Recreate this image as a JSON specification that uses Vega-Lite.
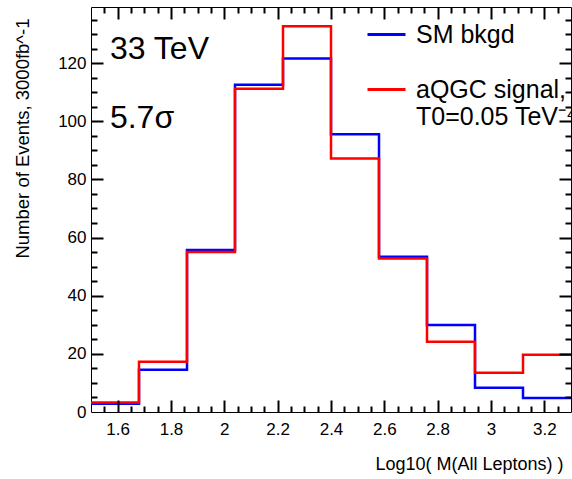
{
  "$schema": "https://vega.github.io/schema/vega-lite/v6.json",
  "width": 480,
  "height": 405,
  "autosize": {"type": "none"},
  "padding": {"left": 91, "top": 7, "right": 1, "bottom": 67},
  "background": "white",
  "config": {
    "view": {"stroke": "#000", "strokeWidth": 1},
    "font": "Liberation Sans",
    "axis": {
      "grid": false, "domain": false, "tickColor": "#000", "tickWidth": 2,
      "labelColor": "#000", "titleColor": "#000",
      "labelFont": "Liberation Sans", "titleFont": "Liberation Sans",
      "labelFontSize": 17, "titleFontSize": 18, "titleFontWeight": "normal"
    }
  },
  "data": {
    "values": [
      {"s": "SM", "i": 0, "lo": 1.5, "hi": 1.68, "n": 2.8},
      {"s": "SM", "i": 1, "lo": 1.68, "hi": 1.86, "n": 14.5},
      {"s": "SM", "i": 2, "lo": 1.86, "hi": 2.04, "n": 55.7},
      {"s": "SM", "i": 3, "lo": 2.04, "hi": 2.22, "n": 112.6},
      {"s": "SM", "i": 4, "lo": 2.22, "hi": 2.4, "n": 121.6},
      {"s": "SM", "i": 5, "lo": 2.4, "hi": 2.58, "n": 95.5},
      {"s": "SM", "i": 6, "lo": 2.58, "hi": 2.76, "n": 53.4},
      {"s": "SM", "i": 7, "lo": 2.76, "hi": 2.94, "n": 29.9},
      {"s": "SM", "i": 8, "lo": 2.94, "hi": 3.12, "n": 8.3},
      {"s": "SM", "i": 9, "lo": 3.12, "hi": 3.3, "n": 4.8},
      {"s": "aQGC", "i": 0, "lo": 1.5, "hi": 1.68, "n": 3.3},
      {"s": "aQGC", "i": 1, "lo": 1.68, "hi": 1.86, "n": 17.3},
      {"s": "aQGC", "i": 2, "lo": 1.86, "hi": 2.04, "n": 55.0},
      {"s": "aQGC", "i": 3, "lo": 2.04, "hi": 2.22, "n": 111.2},
      {"s": "aQGC", "i": 4, "lo": 2.22, "hi": 2.4, "n": 132.7},
      {"s": "aQGC", "i": 5, "lo": 2.4, "hi": 2.58, "n": 87.2},
      {"s": "aQGC", "i": 6, "lo": 2.58, "hi": 2.76, "n": 52.8},
      {"s": "aQGC", "i": 7, "lo": 2.76, "hi": 2.94, "n": 24.2},
      {"s": "aQGC", "i": 8, "lo": 2.94, "hi": 3.12, "n": 13.5},
      {"s": "aQGC", "i": 9, "lo": 3.12, "hi": 3.3, "n": 19.7}
    ]
  },
  "transform": [{"fold": ["lo", "hi"], "as": ["edge", "x"]}],
  "layer": [
    {
      "transform": [{"filter": "datum.s == 'SM'"}],
      "mark": {"type": "line", "strokeWidth": 2.5, "strokeJoin": "miter", "strokeCap": "butt", "clip": true},
      "encoding": {
        "x": {"field": "x", "type": "quantitative",
          "scale": {"domain": [1.5, 3.3], "nice": false, "zero": false},
          "axis": {"orient": "bottom", "values": [1.6, 1.8, 2, 2.2, 2.4, 2.6, 2.8, 3, 3.2], "format": "~g",
            "ticks": false, "labelPadding": 9, "labelFlush": false, "labelOverlap": false,
            "title": "Log10( M(All Leptons) )", "titleAnchor": "end", "titleAlign": "right",
            "titleX": 472, "titleY": 57, "titleBaseline": "alphabetic"}},
        "y": {"field": "n", "type": "quantitative",
          "scale": {"domain": [0, 139.3], "nice": false},
          "axis": {"orient": "left", "values": [0, 20, 40, 60, 80, 100, 120],
            "ticks": false, "labelPadding": 5, "labelFlush": false, "labelOverlap": false,
            "title": "Number of Events, 3000fb^-1", "titleFontSize": 18.5, "titleAngle": 270, "titleAnchor": "end", "titleAlign": "right",
            "titleX": -63, "titleY": 11, "titleBaseline": "alphabetic"}},
        "color": {"field": "s", "type": "nominal",
          "scale": {"domain": ["SM", "aQGC"], "range": ["#0000ff", "#ff0000"]},
          "legend": {"orient": "none", "legendX": 275, "legendY": 7, "title": null,
            "symbolType": "stroke", "symbolSize": 1444, "symbolStrokeWidth": 3,
            "labelFontSize": 25, "labelFont": "Liberation Sans", "labelColor": "#000",
            "labelOffset": 9, "rowPadding": 21, "labelLimit": 0,
            "labelExpr": "datum.label == 'SM' ? 'SM bkgd' : ['aQGC signal,', 'T0=0.05 TeV⁻⁴']"}},
        "order": [{"field": "i", "type": "quantitative"}, {"field": "edge", "sort": "descending"}]
      }
    },
    {
      "transform": [{"filter": "datum.s == 'aQGC'"}],
      "mark": {"type": "line", "strokeWidth": 2.5, "strokeJoin": "miter", "strokeCap": "butt", "clip": true},
      "encoding": {
        "x": {"field": "x", "type": "quantitative",
          "axis": {"orient": "top", "offset": -405, "labels": false, "title": null, "ticks": true, "tickSize": 12, "tickWidth": 2, "tickColor": "#000", "zindex": 2,
            "values": [1.6, 1.8, 2, 2.2, 2.4, 2.6, 2.8, 3, 3.2]}},
        "y": {"field": "n", "type": "quantitative",
          "axis": {"orient": "right", "offset": -480, "labels": false, "title": null, "ticks": true, "tickSize": 12, "tickWidth": 2, "tickColor": "#000", "zindex": 2,
            "values": [20, 40, 60, 80, 100, 120]}},
        "color": {"field": "s", "type": "nominal"},
        "order": [{"field": "i", "type": "quantitative"}, {"field": "edge", "sort": "descending"}]
      }
    },
    {
      "data": {"values": [{"label": "33 TeV", "px": 1.571, "py": 121.4}]},
      "mark": {"type": "text", "fontSize": 32, "font": "Liberation Sans", "align": "left", "baseline": "alphabetic", "color": "#000"},
      "encoding": {
        "x": {"field": "px", "type": "quantitative",
          "axis": {"orient": "top", "offset": -405, "labels": false, "title": null, "ticks": true, "tickSize": 6, "tickWidth": 2, "tickColor": "#000", "zindex": 2,
            "values": [1.55,1.65,1.7,1.75,1.85,1.9,1.95,2.05,2.1,2.15,2.25,2.3,2.35,2.45,2.5,2.55,2.65,2.7,2.75,2.85,2.9,2.95,3.05,3.1,3.15,3.25]}},
        "y": {"field": "py", "type": "quantitative",
          "axis": {"orient": "right", "offset": -480, "labels": false, "title": null, "ticks": true, "tickSize": 6, "tickWidth": 2, "tickColor": "#000", "zindex": 2,
            "values": [5,10,15,25,30,35,45,50,55,65,70,75,85,90,95,105,110,115,125,130,135]}},
        "text": {"field": "label"}
      }
    },
    {
      "data": {"values": [{"label": "5.7σ", "px": 1.571, "py": 97.7}]},
      "mark": {"type": "text", "fontSize": 32, "font": "Liberation Sans", "align": "left", "baseline": "alphabetic", "color": "#000"},
      "encoding": {
        "x": {"field": "px", "type": "quantitative",
          "axis": {"orient": "bottom", "offset": -405, "labels": false, "title": null, "ticks": true, "tickSize": 12, "tickWidth": 2, "tickColor": "#000", "zindex": 2,
            "values": [1.6, 1.8, 2, 2.2, 2.4, 2.6, 2.8, 3, 3.2]}},
        "y": {"field": "py", "type": "quantitative",
          "axis": {"orient": "left", "offset": -480, "labels": false, "title": null, "ticks": true, "tickSize": 12, "tickWidth": 2, "tickColor": "#000", "zindex": 2,
            "values": [20, 40, 60, 80, 100, 120]}},
        "text": {"field": "label"}
      }
    },
    {
      "data": {"values": [{"label": "", "px": 1.5, "py": 0}]},
      "mark": {"type": "text", "fontSize": 10, "color": "#000"},
      "encoding": {
        "x": {"field": "px", "type": "quantitative",
          "axis": {"orient": "bottom", "offset": -405, "labels": false, "title": null, "ticks": true, "tickSize": 6, "tickWidth": 2, "tickColor": "#000", "zindex": 2,
            "values": [1.55,1.65,1.7,1.75,1.85,1.9,1.95,2.05,2.1,2.15,2.25,2.3,2.35,2.45,2.5,2.55,2.65,2.7,2.75,2.85,2.9,2.95,3.05,3.1,3.15,3.25]}},
        "y": {"field": "py", "type": "quantitative",
          "axis": {"orient": "left", "offset": -480, "labels": false, "title": null, "ticks": true, "tickSize": 6, "tickWidth": 2, "tickColor": "#000", "zindex": 2,
            "values": [5,10,15,25,30,35,45,50,55,65,70,75,85,90,95,105,110,115,125,130,135]}},
        "text": {"field": "label"}
      }
    }
  ],
  "resolve": {"axis": {"x": "independent", "y": "independent"}}
}
